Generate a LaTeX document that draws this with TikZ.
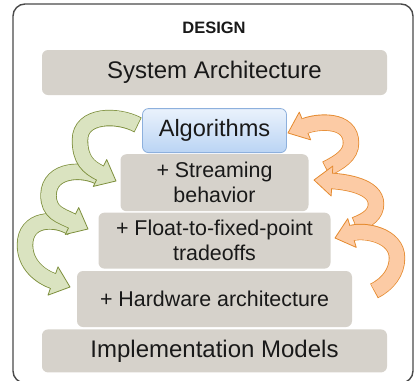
\documentclass[tikz,border=0pt]{standalone}
\usepackage{fontspec}
\setmainfont{Liberation Sans}
\usetikzlibrary{positioning,calc}

\definecolor{boxgrey}{HTML}{D6D2CB}
\definecolor{algtop}{HTML}{EAF2FC}
\definecolor{algbottom}{HTML}{BAD4F4}
\definecolor{algrim}{HTML}{8DB0DD}
\definecolor{leafrim}{HTML}{7D8F3C}
\definecolor{leaffill}{HTML}{DAE3C0}
\definecolor{peachrim}{HTML}{E58A2E}
\definecolor{peachfill}{HTML}{FCCBA5}
\definecolor{framegrey}{HTML}{4A4A4A}

% bent block arrow: #1 colour family, #2 tail, #3 #4 controls, #5 turning point,
% #6 control, #7 head base, #8 tip
\newcommand{\bentarrow}[8]{%
  \coordinate (ab) at #7; \coordinate (at) at #8;
  \coordinate (ac) at ($(ab)!-13pt!(at)$);
  \draw[#1 rim] #2 .. controls #3 and #4 .. #5 .. controls #6 and (ac) .. (ab);
  \filldraw[#1 head] ($(ab)!15pt!90:(at)$) -- (at) -- ($(ab)!15pt!-90:(at)$) -- cycle;
  \draw[#1 core] #2 .. controls #3 and #4 .. #5 .. controls #6 and (ac) .. ($(ab)!1.5pt!(at)$);
}

\begin{document}
\begin{tikzpicture}[
  x=1pt,y=-1pt,
  title/.style={font=\fontsize{16.5}{19}\selectfont\bfseries,text=black!90},
  layer/.style={fill=boxgrey,rounded corners=6pt,inner sep=0pt,align=center,
    font=\fontsize{21.4}{25}\selectfont,text=black!90},
  wide/.style={layer,minimum width=345pt,font=\fontsize{24}{28}\selectfont},
  algbox/.style={layer,top color=algtop,bottom color=algbottom,draw=algrim,
    line width=0.8pt,font=\fontsize{23.6}{27}\selectfont},
  leaf rim/.style={draw=leafrim,line width=16.4pt},
  leaf core/.style={draw=leaffill,line width=14.8pt,shorten <=0.8pt},
  leaf head/.style={fill=leaffill,draw=leafrim,line width=0.8pt,line join=round},
  peach rim/.style={draw=peachrim,line width=16.4pt},
  peach core/.style={draw=peachfill,line width=14.8pt,shorten <=0.8pt},
  peach head/.style={fill=peachfill,draw=peachrim,line width=0.8pt,line join=round}
]
  \useasboundingbox (0,0) rectangle (416,381);
  \draw[framegrey,line width=1.4pt,rounded corners=12pt] (13,4) rectangle (413,383);

  \node[title] (design) at (214,28) {DESIGN};
  \node[wide,minimum height=45pt] (sysarch) at (214.5,72.5) {System Architecture};
  \node[algbox,minimum width=144pt,minimum height=44pt,below=13pt of sysarch] (alg) {Algorithms};
  \node[layer,minimum width=188pt,minimum height=57pt,below=1pt of alg] (stream) {+ Streaming\\behavior};
  \node[layer,minimum width=232pt,minimum height=56pt,below=1pt of stream] (float) {+ Float-to-fixed-point\\tradeoffs};
  \node[layer,minimum width=275pt,minimum height=56pt,below=2pt of float] (hw) {+ Hardware architecture};
  \node[wide,minimum height=43pt,below=2pt of hw] (impl) {Implementation Models};

  % refinement going down
  \bentarrow{leaf}{(72,228)}{(55,217)}{(25,218)}{(25,245)}{(25,265)}{(53,281)}{(70,287)}
  \bentarrow{leaf}{(101,178)}{(85,168)}{(49,168)}{(48.5,195)}{(48.5,213)}{(72,221)}{(88,229)}
  \bentarrow{leaf}{(138,125)}{(118,114)}{(80,114)}{(80,140)}{(80,160)}{(100,173)}{(116,181)}

  % feedback going up
  \bentarrow{peach}{(326,169)}{(340,162)}{(351,155)}{(351,143)}{(351,118)}{(305,126)}{(288,133)}
  \bentarrow{peach}{(355,225)}{(368,220)}{(376,214)}{(376,204)}{(376,186)}{(332,181)}{(314,180)}
  \bentarrow{peach}{(374,291)}{(388,284)}{(397,272)}{(397,258)}{(397,235)}{(352,233)}{(335,238)}
\end{tikzpicture}
\end{document}
